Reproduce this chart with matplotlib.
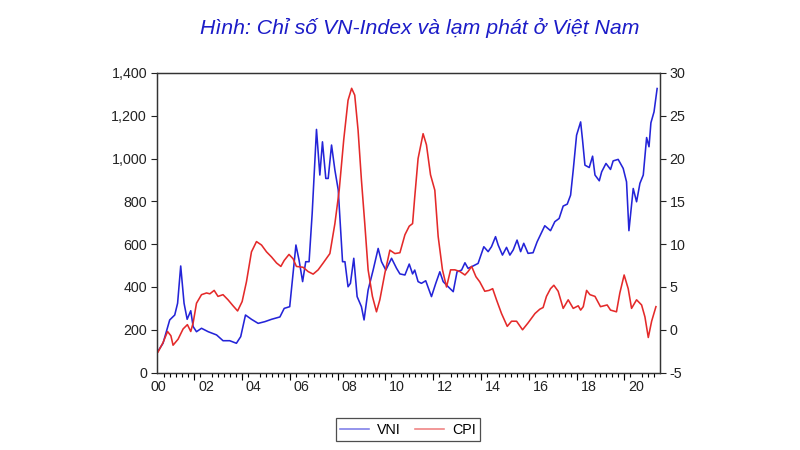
import matplotlib.pyplot as plt
from matplotlib.ticker import FuncFormatter, MultipleLocator

plt.rcParams['font.family'] = ['Liberation Sans', 'DejaVu Sans']
plt.rcParams['axes.unicode_minus'] = False

# VN-Index (left axis)
vni_t = [2000.49, 2000.70, 2000.98, 2001.19, 2001.31, 2001.44, 2001.58, 2001.71,
         2001.86, 2001.96, 2002.10, 2002.31, 2002.59, 2002.94, 2003.21, 2003.49,
         2003.77, 2003.95, 2004.15, 2004.40, 2004.68, 2004.96, 2005.24, 2005.59,
         2005.77, 2006.00, 2006.26, 2006.39, 2006.54, 2006.67, 2006.81, 2006.94,
         2007.12, 2007.26, 2007.37, 2007.51, 2007.61, 2007.75, 2007.89, 2008.03,
         2008.21, 2008.31, 2008.44, 2008.54, 2008.68, 2008.82, 2009.00, 2009.11,
         2009.28, 2009.49, 2009.70, 2009.84, 2010.02, 2010.26, 2010.47, 2010.61,
         2010.82, 2011.00, 2011.14, 2011.23, 2011.37, 2011.51, 2011.69, 2011.93,
         2012.11, 2012.28, 2012.42, 2012.63, 2012.84, 2013.00, 2013.19, 2013.33,
         2013.46, 2013.67, 2013.88, 2014.12, 2014.30, 2014.44, 2014.61, 2014.72,
         2014.90, 2015.07, 2015.21, 2015.35, 2015.51, 2015.66, 2015.79, 2015.97,
         2016.18, 2016.35, 2016.67, 2016.91, 2017.09, 2017.27, 2017.44, 2017.61,
         2017.75, 2017.86, 2018.00, 2018.17, 2018.25, 2018.35, 2018.53, 2018.67,
         2018.77, 2018.95, 2019.05, 2019.23, 2019.42, 2019.53, 2019.74, 2019.95,
         2020.09, 2020.19, 2020.37, 2020.51, 2020.65, 2020.79, 2020.93, 2021.03,
         2021.11, 2021.24, 2021.37]
vni = [100, 137, 246, 269, 324, 498, 324, 249,
       289, 215, 191, 207, 191, 176, 149, 149,
       137, 168, 269, 249, 230, 238, 249, 260,
       300, 308, 596, 526, 425, 518, 518, 744,
       1136, 923, 1078, 907, 907, 1063, 946, 853,
       518, 518, 401, 417, 534, 355, 308, 246,
       386, 479, 580, 518, 479, 534, 487, 461,
       456, 507, 461, 479, 425, 417, 429, 355,
       417, 471, 425, 401, 378, 471, 479, 513,
       487, 498, 510, 588, 565, 588, 635, 596,
       549, 585, 549, 573, 619, 565, 604, 557,
       560, 611, 686, 663, 705, 720, 778, 787,
       829, 946, 1109, 1171, 1086, 969, 958, 1011,
       923, 896, 938, 977, 949, 989, 996, 954,
       891, 663, 860, 798, 884, 923, 1098, 1055,
       1167, 1218, 1327]

# CPI inflation, % (right axis)
cpi_t = [2000.49, 2000.70, 2000.89, 2001.03, 2001.12, 2001.33, 2001.54, 2001.72,
         2001.86, 2001.96, 2002.10, 2002.31, 2002.52, 2002.66, 2002.84, 2003.00,
         2003.21, 2003.42, 2003.63, 2003.82, 2004.01, 2004.19, 2004.40, 2004.61,
         2004.82, 2005.03, 2005.24, 2005.45, 2005.63, 2005.77, 2005.97, 2006.14,
         2006.28, 2006.56, 2006.77, 2006.98, 2007.19, 2007.40, 2007.68, 2007.89,
         2008.07, 2008.26, 2008.44, 2008.59, 2008.72, 2008.86, 2009.00, 2009.14,
         2009.28, 2009.46, 2009.63, 2009.77, 2009.98, 2010.19, 2010.40, 2010.61,
         2010.82, 2011.00, 2011.14, 2011.23, 2011.37, 2011.58, 2011.72, 2011.89,
         2012.07, 2012.21, 2012.39, 2012.56, 2012.73, 2012.91, 2013.12, 2013.33,
         2013.46, 2013.61, 2013.79, 2013.95, 2014.16, 2014.34, 2014.49, 2014.65,
         2014.86, 2015.10, 2015.28, 2015.49, 2015.74, 2015.97, 2016.26, 2016.46,
         2016.60, 2016.74, 2016.91, 2017.05, 2017.23, 2017.44, 2017.65, 2017.86,
         2018.07, 2018.17, 2018.28, 2018.42, 2018.56, 2018.77, 2019.00, 2019.28,
         2019.42, 2019.67, 2019.81, 2019.99, 2020.16, 2020.30, 2020.51, 2020.72,
         2020.86, 2021.00, 2021.14, 2021.32]
cpi = [-2.6, -1.5, -0.2, -0.7, -1.8, -1.1, 0.1, 0.6,
       -0.2, 0.8, 3.1, 4.1, 4.3, 4.2, 4.6, 3.9,
       4.1, 3.5, 2.8, 2.2, 3.3, 5.6, 9.1, 10.3,
       9.9, 9.1, 8.5, 7.8, 7.4, 8.1, 8.8, 8.3,
       7.4, 7.3, 6.8, 6.5, 7.0, 7.8, 8.9, 12.4,
       16.3, 22.2, 26.8, 28.2, 27.4, 23.3, 17.5, 12.4,
       7.0, 3.9, 2.1, 3.5, 6.6, 9.3, 8.9, 9.0,
       11.1, 12.1, 12.4, 15.5, 20.0, 22.9, 21.6, 18.1,
       16.3, 10.9, 7.0, 5.0, 7.0, 7.0, 6.8, 6.4,
       6.8, 7.4, 6.2, 5.6, 4.5, 4.6, 4.8, 3.5,
       1.9, 0.4, 1.0, 1.0, 0.0, 0.8, 1.9, 2.4,
       2.6, 3.9, 4.8, 5.2, 4.5, 2.5, 3.5, 2.5,
       2.8, 2.3, 2.7, 4.6, 4.1, 3.9, 2.7, 2.9,
       2.3, 2.1, 4.3, 6.4, 4.8, 2.5, 3.5, 2.9,
       1.5, -0.9, 1.0, 2.7]

year_labels = ['00', '02', '04', '06', '08', '10', '12', '14', '16', '18', '20']

fig = plt.figure(figsize=(8, 4.5), dpi=100)
ax = fig.add_axes([0.196, 0.172, 0.629, 0.666])
ax2 = ax.twinx()

l1, = ax.plot(vni_t, vni, color='#2424d8', lw=1.15, label='VNI')
l2, = ax2.plot(cpi_t, cpi, color='#e42a2a', lw=1.15, label='CPI')

ax.set_xlim(2000.44, 2021.49)
ax.set_ylim(0, 1400)
ax2.set_ylim(-5, 30)
ax.set_yticks(range(0, 1401, 200))
ax2.set_yticks(range(-5, 31, 5))
ax.yaxis.set_major_formatter(FuncFormatter(lambda v, p: f'{int(v):,}'))

# year labels sit in the middle of each year, ticks at year starts
ax.set_xticks([2000.5 + 2 * i for i in range(len(year_labels))], year_labels)
ax.tick_params(axis='x', which='major', length=0, pad=5)
ax.xaxis.set_minor_locator(MultipleLocator(0.25))
ax.tick_params(axis='x', which='minor', length=3, direction='out', width=0.8)
sec = ax.secondary_xaxis('bottom')
sec.set_xticks(range(2002, 2022, 2))
sec.tick_params(length=5, width=0.8, labelbottom=False)
sec.spines['bottom'].set_visible(False)

for a in (ax, ax2):
    a.tick_params(axis='y', length=4, width=0.8, direction='out', labelsize=10.3,
                  colors='#222222', pad=3)
    for s in a.spines.values():
        s.set_color('#333333')
        s.set_linewidth(0.9)
ax.tick_params(axis='x', labelsize=10.3, colors='#222222')

fig.text(0.525, 0.938, 'Hình: Chỉ số VN-Index và lạm phát ở Việt Nam',
         ha='center', va='center', fontsize=15.3, style='italic', color='#1c1cc8')

leg = fig.legend(handles=[l1, l2], loc='center', bbox_to_anchor=(0.51, 0.045),
                 ncol=2, fontsize=10.3, frameon=True, fancybox=False,
                 handlelength=2.0, handletextpad=0.6, columnspacing=1.0,
                 borderpad=0.3)
leg.get_frame().set_edgecolor('#222222')
leg.get_frame().set_linewidth(0.9)
for line in leg.get_lines():
    line.set_alpha(0.6)

fig.savefig('out.png', dpi=100)
